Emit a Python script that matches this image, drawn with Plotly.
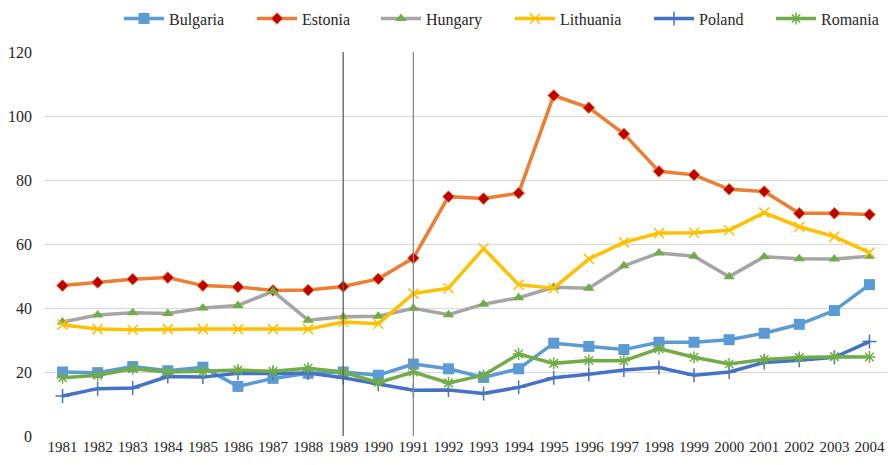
import plotly.graph_objects as go

years = list(range(1981, 2005))
bulgaria = [20, 19.8, 21.7, 20.4, 21.5, 15.5, 18, 19.6, 20, 19, 22.5, 21, 18.3, 21, 29, 28, 27, 29.3, 29.3, 30.1, 32.1, 34.9, 39.2, 47.3]
estonia = [47, 48, 49, 49.5, 47, 46.6, 45.5, 45.6, 46.7, 49.1, 55.6, 74.8, 74.2, 75.9, 106.4, 102.6, 94.4, 82.7, 81.6, 77.1, 76.4, 69.6, 69.6, 69.2]
hungary = [35.6, 37.8, 38.5, 38.3, 40, 40.8, 45.2, 36.2, 37.3, 37.4, 39.9, 37.9, 41.2, 43.2, 46.5, 46.2, 53.2, 57.2, 56.2, 49.8, 56, 55.4, 55.3, 56.2]
lithuania = [34.8, 33.4, 33.2, 33.4, 33.4, 33.4, 33.4, 33.4, 35.6, 35.1, 44.5, 46.2, 58.6, 47.3, 46.2, 55.3, 60.5, 63.4, 63.5, 64.3, 69.8, 65.4, 62.3, 57.3]
poland = [12.5, 14.8, 15, 18.6, 18.4, 19.6, 19.5, 19.7, 18.2, 16.2, 14.3, 14.4, 13.3, 15.2, 18.2, 19.3, 20.6, 21.4, 19, 20, 23, 23.7, 24.6, 29.5]
romania = [18.2, 19, 21, 20, 20.2, 20.6, 20.2, 21.2, 20, 16.7, 20, 16.6, 19, 25.6, 22.7, 23.6, 23.5, 27.3, 24.6, 22.5, 23.9, 24.5, 24.8, 24.7]
marker_years = [1989, 1991]
y_ticks = [0, 20, 40, 60, 80, 100, 120]

SERIF = "Times New Roman"

series = [
    ("Bulgaria", bulgaria, "#5B9BD5", dict(symbol="square", size=11, color="#5B9BD5")),
    ("Estonia", estonia, "#ED7D31", dict(symbol="diamond", size=9, color="#C00000", line=dict(color="#ED7D31", width=1))),
    ("Hungary", hungary, "#A5A5A5", dict(symbol="triangle-up", size=10, color="#70AD47")),
    ("Lithuania", lithuania, "#FFC000", dict(symbol="x-thin-open", size=10, line=dict(color="#FFC000", width=1.5))),
    ("Poland", poland, "#4472C4", dict(symbol="cross-thin-open", size=10, line=dict(color="#4472C4", width=1.5))),
    ("Romania", romania, "#70AD47", dict(symbol="asterisk-open", size=10, line=dict(color="#70AD47", width=1.5))),
]
# left edge (px) of each legend entry's line sample in the reference
legend_px = [121, 254, 378, 512, 651, 773]

fig = go.Figure()
legend_layout = {}
for i, ((name, vals, col, mk), lx) in enumerate(zip(series, legend_px)):
    key = "legend" if i == 0 else f"legend{i + 1}"
    fig.add_trace(go.Scatter(x=years, y=vals, name=name, mode="lines+markers",
                             line=dict(color=col, width=3.5), marker=mk, legend=key,
                             showlegend=True))
    legend_layout[key] = dict(orientation="h", x=(lx - 2) / 891, xanchor="left", xref="container",
                              y=0.96, yanchor="middle", yref="container", itemwidth=40,
                              bgcolor="rgba(0,0,0,0)",
                              font=dict(family=SERIF, size=16, color="#262626"))

for i, yr in enumerate(marker_years):
    fig.add_shape(type="line", x0=yr, x1=yr, y0=0, y1=120, xref="x", yref="y",
                  line=dict(color="#606060" if i == 0 else "#8a8a8a", width=1.3), layer="above")

fig.update_layout(
    width=891, height=465, showlegend=True,
    margin=dict(l=45, r=4, t=52, b=29, autoexpand=False),
    paper_bgcolor="white", plot_bgcolor="white",
    font=dict(family=SERIF, size=15, color="#262626"),
    xaxis=dict(range=[1980.5, 2004.5], tickmode="array", tickvals=years, ticktext=[str(y) for y in years],
               showgrid=False, zeroline=False, showline=False, ticks="", tickangle=0,
               tickfont=dict(family=SERIF, size=15), automargin=False),
    yaxis=dict(range=[0, 120], tickvals=y_ticks, showgrid=True, gridcolor="#D9D9D9", gridwidth=1.3,
               zeroline=False, showline=False, ticks="", ticklabelstandoff=12,
               tickfont=dict(family=SERIF, size=16), automargin=False),
    **legend_layout,
)

fig.write_html("out.html", config={"displayModeBar": False},
               post_script="document.body.style.margin='0';document.body.style.padding='0';")
